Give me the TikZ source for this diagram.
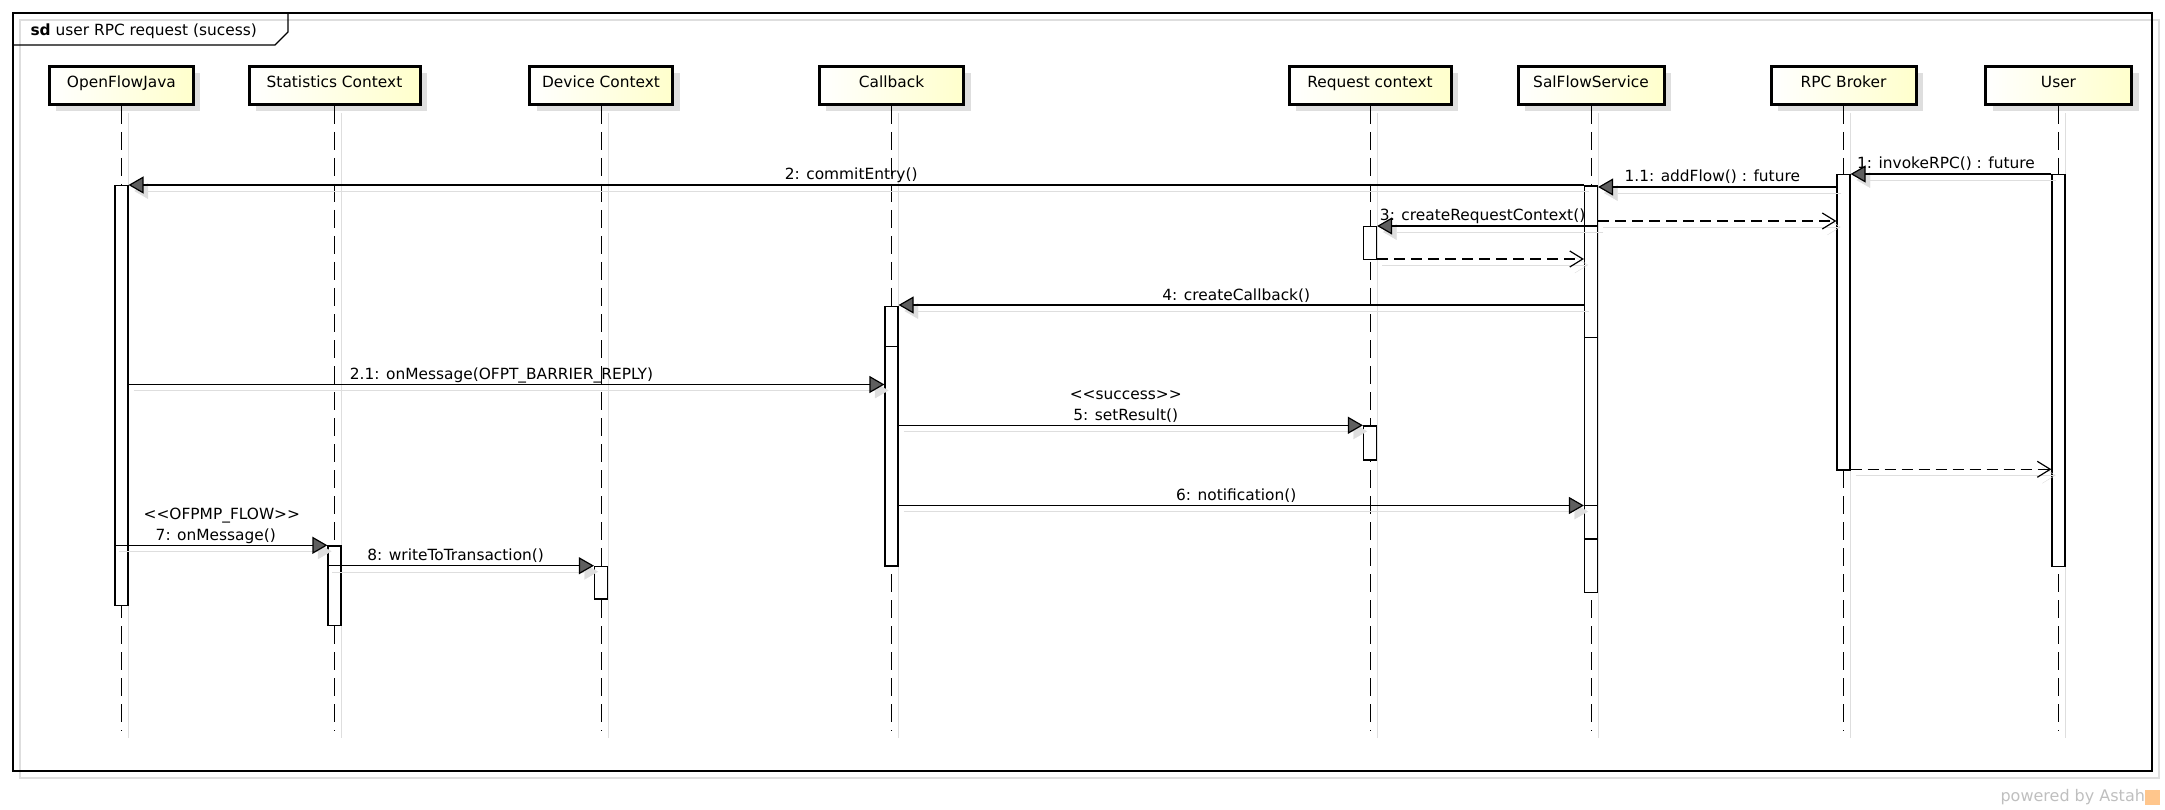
\documentclass[tikz,border=0pt]{standalone}
\usepackage{fontspec}
\setmainfont{DejaVu Sans}
\usetikzlibrary{arrows.meta, shadows}

\definecolor{headyellow}{RGB}{255,255,204}
\definecolor{shadowgray}{RGB}{222,222,222}
\definecolor{tipgray}{RGB}{95,95,95}

\newcommand{\stereo}[1]{<\kern0pt<#1>\kern0pt>}

\begin{document}
\begin{tikzpicture}[x=1pt, y=-1pt,
    every node/.style={font=\fontsize{15.4}{18}\selectfont},
    lifehead/.style={draw, line width=3pt, minimum width=#1, minimum height=38pt,
        inner sep=0pt, text height=14.6pt, text depth=11pt,
        left color=white, right color=headyellow,
        drop shadow={shadow xshift=7pt, shadow yshift=-7pt, fill=shadowgray, opacity=1}},
    lifeline/.style={line width=1pt, dash pattern=on 18pt off 8pt,
        preaction={draw=shadowgray, solid, transform canvas={xshift=7pt, yshift=-7pt}}},
    act/.style={draw, fill=white, line width=1.2pt, minimum width=13pt,
        inner sep=0pt, anchor=north},
    call/.style={line width=1.2pt, -{Triangle[length=15pt, width=17pt, fill=tipgray]},
        preaction={draw=shadowgray, -{Triangle[length=15pt, width=17pt, fill=shadowgray]},
            transform canvas={xshift=5pt, yshift=-6pt}}},
    reply/.style={line width=1.2pt, dash pattern=on 11pt off 6pt,
        -{Straight Barb[length=13pt, width=16pt]},
        preaction={draw=shadowgray, solid, -{Straight Barb[length=13pt, width=16pt]},
            transform canvas={xshift=5pt, yshift=-6pt}}},
    lbl/.style={midway, anchor=base, inner sep=0pt, xshift=-5pt, yshift=5pt}]

    \useasboundingbox (0,0) rectangle (2165,810);

    % === Frame ===
    \draw[shadowgray, line width=1.5pt] (20,20) rectangle (2159,778);
    \draw[line width=1.5pt] (13,13) rectangle (2152,771);
    \draw[line width=1.2pt] (13,45) -- (275,45) -- (288,32) -- (288,13);
    \node[anchor=base west] (title) at (27,36) {\textbf{sd} user RPC request (sucess)};

    % === Lifeline heads ===
    \node[lifehead=144pt] (ofj) at (121.4,85.5) {OpenFlowJava};
    \node[lifehead=171pt] (stat) at (334.5,85.5) {Statistics Context};
    \node[lifehead=143pt] (dev) at (601,85.5) {Device Context};
    \node[lifehead=144.5pt] (cb) at (891.5,85.5) {Callback};
    \node[lifehead=162pt] (req) at (1370,85.5) {Request context};
    \node[lifehead=146pt] (sal) at (1591,85.5) {SalFlowService};
    \node[lifehead=145pt] (rpc) at (1843.5,85.5) {RPC Broker};
    \node[lifehead=146pt] (usr) at (2058.5,85.5) {User};

    % === Lifelines ===
    \coordinate (lifeend) at (0,731);
    \draw[lifeline] (ofj.south) -- (ofj |- lifeend);
    \draw[lifeline] (stat.south) -- (stat |- lifeend);
    \draw[lifeline] (dev.south) -- (dev |- lifeend);
    \draw[lifeline] (cb.south) -- (cb |- lifeend);
    \draw[lifeline] (req.south) -- (req |- lifeend);
    \draw[lifeline] (sal.south) -- (sal |- lifeend);
    \draw[lifeline] (rpc.south) -- (rpc |- lifeend);
    \draw[lifeline] (usr.south) -- (usr |- lifeend);

    % === Activations ===
    \node[act, minimum height=420pt] (aofj) at (ofj |- 0,185) {};
    \node[act, minimum height=79.7pt] (astat) at (stat |- 0,545.3) {};
    \node[act, minimum height=32.6pt] (adev) at (dev |- 0,565.7) {};
    \node[act, minimum height=259.3pt] (acb) at (cb |- 0,306) {};
    \node[act, minimum height=33pt] (areq1) at (req |- 0,226) {};
    \node[act, minimum height=34pt] (areq2) at (req |- 0,425.3) {};
    \node[act, minimum height=406.5pt] (asal) at (sal |- 0,185.5) {};
    \node[act, minimum height=295pt] (arpc) at (rpc |- 0,174.3) {};
    \node[act, minimum height=392pt] (ausr) at (usr |- 0,174) {};

    % nested activation marks
    \draw[line width=1.2pt] (acb.west |- 0,346.5) -- (acb.east |- 0,346.5);
    \draw[line width=1.2pt] (asal.west |- 0,226) -- (asal.east |- 0,226);
    \draw[line width=1.2pt] (asal.west |- 0,337.5) -- (asal.east |- 0,337.5);
    \draw[line width=1.2pt] (asal.west |- 0,505.5) -- (asal.east |- 0,505.5);
    \draw[line width=1.2pt] (asal.west |- 0,539) -- (asal.east |- 0,539);

    % === Messages ===
    \coordinate (m1) at (0,174);
    \coordinate (m11) at (0,187);
    \coordinate (m2) at (0,185);
    \coordinate (r11) at (0,221);
    \coordinate (m3) at (0,226);
    \coordinate (r3) at (0,259);
    \coordinate (m4) at (0,305);
    \coordinate (m21) at (0,384.5);
    \coordinate (m5) at (0,425.3);
    \coordinate (r1) at (0,469.3);
    \coordinate (m6) at (0,505.5);
    \coordinate (m7) at (0,545.3);
    \coordinate (m8) at (0,565.7);

    \draw[call] (ausr.west |- m1) -- (arpc.east |- m1) node[lbl] {1: invokeRPC() : future};
    \draw[call] (arpc.west |- m11) -- (asal.east |- m11) node[lbl] {1.1: addFlow() : future};
    \draw[call] (asal.west |- m2) -- (aofj.east |- m2) node[lbl] {2: commitEntry()};
    \draw[reply] (asal.east |- r11) -- (arpc.west |- r11);
    \draw[call] (asal.east |- m3) -- (areq1.east |- m3) node[lbl] {3: createRequestContext()};
    \draw[reply] (areq1.east |- r3) -- (asal.west |- r3);
    \draw[call] (asal.west |- m4) -- (acb.east |- m4) node[lbl] {4: createCallback()};
    \draw[call] (aofj.east |- m21) -- (acb.west |- m21) node[lbl] {2.1: onMessage(OFPT\_BARRIER\_REPLY)};
    \draw[call] (acb.east |- m5) -- (areq2.west |- m5) node[lbl] {5: setResult()}
        node[lbl, yshift=21pt] {\stereo{success}};
    \draw[reply] (arpc.east |- r1) -- (ausr.west |- r1);
    \draw[call] (acb.east |- m6) -- (asal.west |- m6) node[lbl] {6: notification()};
    \draw[call] (aofj.west |- m7) -- (astat.west |- m7) node[lbl] {7: onMessage()}
        node[lbl, xshift=6pt, yshift=21pt] {\stereo{OFPMP\_FLOW}};
    \draw[call] (astat.west |- m8) -- (adev.west |- m8) node[lbl] {8: writeToTransaction()};

    % === Footer ===
    \node[anchor=base west, text=gray!50, font=\fontsize{16}{18}\selectfont] (astah) at (1997,801) {powered by Astah};
    \fill[orange!45] (2145,790) rectangle (2160,805);

\end{tikzpicture}
\end{document}
